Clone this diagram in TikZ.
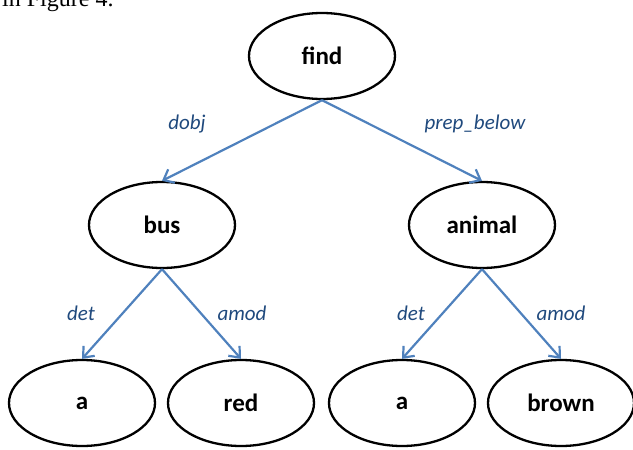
\documentclass[tikz,border=0pt]{standalone}
\usepackage{fontspec}
\setmainfont{Carlito}
\newfontfamily\captionfont{Liberation Serif}
\usepackage{tikz}
\usetikzlibrary{positioning}
\usetikzlibrary{shapes.geometric,arrows.meta}

\definecolor{depblue}{RGB}{79,129,189}
\definecolor{relblue}{RGB}{31,73,125}

\tikzset{
  word/.style={ellipse, draw=black, line width=2.3pt, minimum width=146pt,
    minimum height=86pt, inner sep=0pt, font=\bfseries\fontsize{25}{25}\selectfont},
  dep/.style={draw=depblue, line width=2.2pt, -{Straight Barb[length=9pt,width=15pt]}},
  rel/.style={text=relblue, font=\itshape\fontsize{21}{21}\selectfont}
}

\begin{document}
\begin{tikzpicture}[x=1pt,y=-1pt]
\useasboundingbox (0,0) rectangle (633,450);
\clip (0,0) rectangle (633,450);

\node[anchor=base west, inner sep=0pt, font=\captionfont\fontsize{24}{24}\selectfont]
  (caption) at (2,6) {in Figure 4.};

% words
\node[word] (find) at (322,56) {find};
\node[word] (bus) at (162,225) {bus};
\node[word] (animal) at (482,225) {animal};
\node[word] (a1) at (82,403) {a};
\node[word] (red) at (241,403) {red};
\node[word] (a2) at (402,403) {a};
\node[word] (brown) at (561,403) {brown};

% dependencies
\foreach \p/\c in {find/bus,find/animal,bus/a1,bus/red,animal/a2,animal/brown}
  \draw[dep] (\p.south) -- (\c.north);

% relation labels
\node[rel] (dobj) at (187,124) {dobj};
\node[rel] (prepbelow) at (475,124) {prep\_below};
\node[rel] (det1) at (81,313) {det};
\node[rel] (amod1) at (242,313) {amod};
\node[rel] (det2) at (411,313) {det};
\node[rel] (amod2) at (561,313) {amod};

\end{tikzpicture}
\end{document}
